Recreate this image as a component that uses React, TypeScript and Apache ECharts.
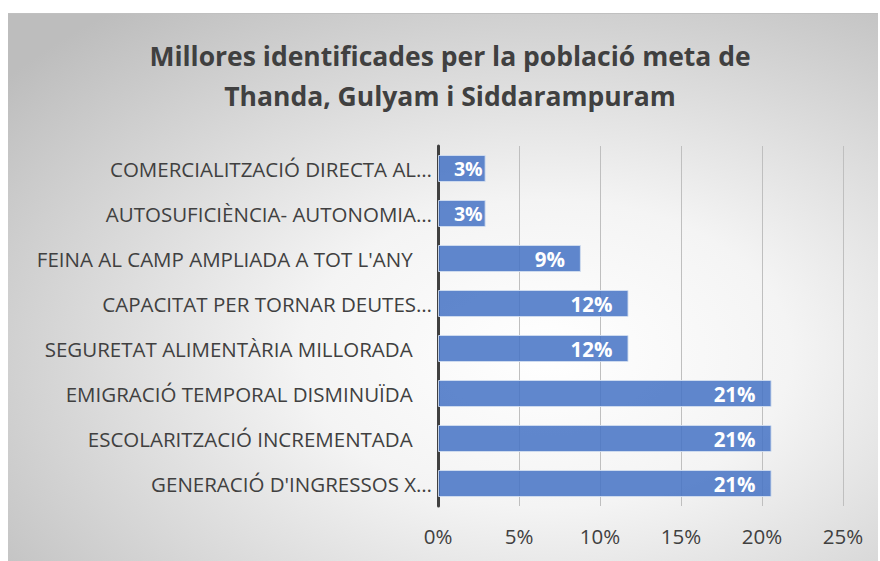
import React, { useEffect, useRef } from "react";
import * as echarts from "echarts";

const titleLines = [
  "Millores identificades per la població meta de",
  "Thanda, Gulyam i Siddarampuram",
];

// Categories from bottom to top (as drawn by the category axis)
const categories = [
  "GENERACIÓ D'INGRESSOS X…",
  "ESCOLARITZACIÓ INCREMENTADA ",
  "EMIGRACIÓ TEMPORAL DISMINUÏDA ",
  "SEGURETAT ALIMENTÀRIA MILLORADA ",
  "CAPACITAT PER TORNAR DEUTES…",
  "FEINA AL CAMP AMPLIADA A TOT L'ANY ",
  "AUTOSUFICIÈNCIA- AUTONOMIA…",
  "COMERCIALITZACIÓ DIRECTA AL…",
];

// Shares (%)
const values = [20.59, 20.59, 20.59, 11.76, 11.76, 8.82, 2.94, 2.94];

const xTicks = [0, 5, 10, 15, 20, 25];

export default function App() {
  const ref = useRef<HTMLDivElement>(null);

  useEffect(() => {
    if (!ref.current) return;
    const chart = echarts.init(ref.current, undefined, { renderer: "svg" });
    const font = "'Open Sans', 'Noto Sans', sans-serif";
    chart.setOption({
      animation: false,
      backgroundColor: new echarts.graphic.RadialGradient(0.62, 0.62, 0.8, [
        { offset: 0, color: "#ffffff" },
        { offset: 0.35, color: "#f4f4f4" },
        { offset: 1, color: "#bdbdbd" },
      ]),
      title: {
        text: titleLines.join("\n"),
        left: 437,
        top: 17,
        textAlign: "center",
        padding: 5,
        textStyle: {
          fontFamily: font,
          fontWeight: "bold",
          fontSize: 26.5,
          lineHeight: 40,
          color: "#404040",
        },
      },
      grid: {
        left: 430,
        right: 35,
        top: 132,
        bottom: 55,
        containLabel: false,
      },
      xAxis: {
        type: "value",
        min: xTicks[0],
        max: xTicks[xTicks.length - 1],
        interval: 5,
        axisLine: { show: false },
        axisTick: { show: false },
        splitLine: { show: true, lineStyle: { color: "#bfbfbf", width: 1 } },
        axisLabel: {
          formatter: (v: number) => `${v}%`,
          fontFamily: font,
          fontSize: 20.5,
          color: "#404040",
          margin: 19,
        },
      },
      yAxis: {
        type: "category",
        data: categories,
        axisLine: { show: true, lineStyle: { color: "#404040", width: 3 } },
        axisTick: { show: false },
        splitLine: { show: false },
        axisLabel: {
          fontFamily: font,
          fontSize: 20.5,
          color: "#404040",
          margin: 6,
          formatter: (v: string) => (v.endsWith(" ") ? `{p|${v}}` : v),
          rich: {
            p: {
              fontFamily: font,
              fontSize: 20.5,
              color: "#404040",
              padding: [0, 14, 0, 0],
            },
          },
        },
      },
      series: [
        {
          type: "bar",
          data: values.map((v) =>
            v < 5 ? { value: v, label: { distance: 3, fontSize: 19.5 } } : v
          ),
          barWidth: "60%",
          z: 3,
          itemStyle: {
            color: "rgba(68,114,196,0.85)",
            borderColor: "rgba(210,222,240,0.9)",
            borderWidth: 1,
          },
          label: {
            show: true,
            position: "insideRight",
            distance: 16,
            formatter: (p: any) => `${Math.round(p.value)}%`,
            fontFamily: font,
            fontWeight: "bold",
            fontSize: 20.5,
            color: "#ffffff",
          },
        },
      ],
    });
    return () => chart.dispose();
  }, []);

  return (
    <div
      ref={ref}
      style={{
        position: "absolute",
        left: 8,
        top: 13,
        width: 870,
        height: 548,
        borderTop: "1px solid #c0c0c0",
        boxSizing: "border-box",
      }}
    />
  );
}
